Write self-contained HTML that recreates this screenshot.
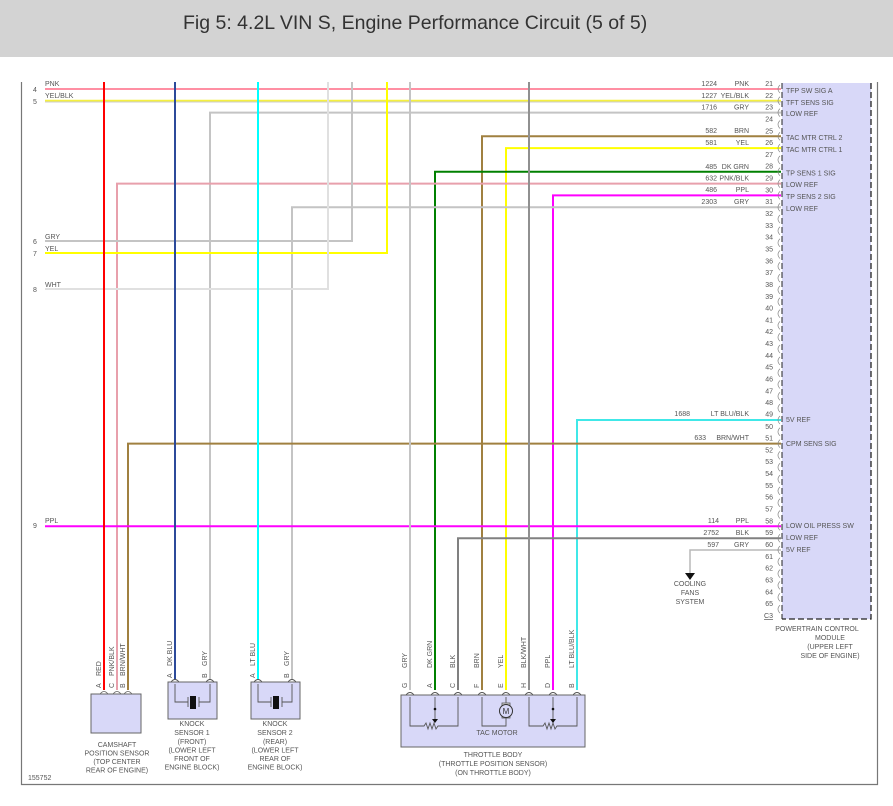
<!DOCTYPE html>
<html><head><meta charset="utf-8"><style>
html,body{margin:0;padding:0;background:#fff;}
svg{display:block;font-family:"Liberation Sans",Arial,sans-serif;}
text{fill:#555;font-size:7px;}
</style></head><body>
<svg width="893" height="806" viewBox="0 0 893 806" xmlns="http://www.w3.org/2000/svg">
<rect x="0" y="0" width="893" height="57" fill="#d3d3d3"/>
<text x="183" y="29" style="font-size:19.5px;fill:#333">Fig 5: 4.2L VIN S, Engine Performance Circuit (5 of 5)</text>
<path d="M21.5 82 V784.5 H877.5 V82" fill="none" stroke="#777" stroke-width="1.2"/>
<rect x="782" y="83" width="89" height="536" fill="#d8d8f8"/>
<path d="M871 83 V619 H782" fill="none" stroke="#222" stroke-width="1.3" stroke-dasharray="6,3"/>
<path d="M782 83 V619" fill="none" stroke="#222" stroke-width="1" stroke-dasharray="6,3"/>

<g fill="none" stroke-width="2">
<path d="M45 89 H781" stroke="#ff8fa3"/>
<path d="M45 100.8 H781" stroke="#f5f040"/>
<path d="M45 102 H781" stroke="#ccc" stroke-width="1"/>
<path d="M210 680 V112.6 H781" stroke="#c4c4c4"/>
<path d="M482 690 V136.3 H781" stroke="#a08040"/>
<path d="M506 690 V148.1 H781" stroke="#ffff00"/>
<path d="M435 690 V171.7 H781" stroke="#008000"/>
<path d="M117 690 V183.6 H781" stroke="#e8a0ac"/>
<path d="M553 690 V195.4 H781" stroke="#ff00ff"/>
<path d="M292 680 V207.2 H781" stroke="#c4c4c4"/>
<path d="M45 241 H352 V82" stroke="#c4c4c4"/>
<path d="M45 253 H387 V82" stroke="#ffff00"/>
<path d="M45 289 H328 V82" stroke="#e0e0e0"/>
<path d="M577 690 V420 H781" stroke="#40e8e8"/>
<path d="M128 690 V443.6 H781" stroke="#a08040"/>
<path d="M45 526.3 H781" stroke="#ff00ff"/>
<path d="M458 690 V538.2 H781" stroke="#808080"/>
<path d="M781 550 H690 V573" stroke="#b8b8b8" stroke-width="1.5"/>
<path d="M104 82 V690" stroke="#ff0000"/>
<path d="M175 82 V680" stroke="#2c4a9a"/>
<path d="M258 82 V680" stroke="#00ffff"/>
<path d="M410 82 V690" stroke="#c4c4c4"/>
<path d="M529 82 V690" stroke="#909090"/>
</g>
<polygon points="685,573 695,573 690,580" fill="#111"/>
<text x="690" y="586" text-anchor="middle">COOLING</text>
<text x="690" y="595" text-anchor="middle">FANS</text>
<text x="690" y="604" text-anchor="middle">SYSTEM</text>

<g>
<text x="33" y="92">4</text><text x="45" y="86">PNK</text>
<text x="33" y="104">5</text><text x="45" y="98">YEL/BLK</text>
<text x="33" y="244">6</text><text x="45" y="239">GRY</text>
<text x="33" y="256">7</text><text x="45" y="251">YEL</text>
<text x="33" y="292">8</text><text x="45" y="287">WHT</text>
<text x="33" y="528">9</text><text x="45" y="523">PPL</text>
</g>

<g text-anchor="end">
<text x="717" y="86">1224</text><text x="749" y="86">PNK</text>
<text x="717" y="98">1227</text><text x="749" y="98">YEL/BLK</text>
<text x="717" y="109.5">1716</text><text x="749" y="109.5">GRY</text>
<text x="717" y="133">582</text><text x="749" y="133">BRN</text>
<text x="717" y="145">581</text><text x="749" y="145">YEL</text>
<text x="717" y="169">485</text><text x="749" y="169">DK GRN</text>
<text x="717" y="180.5">632</text><text x="749" y="180.5">PNK/BLK</text>
<text x="717" y="192">486</text><text x="749" y="192">PPL</text>
<text x="717" y="204">2303</text><text x="749" y="204">GRY</text>
<text x="690" y="416">1688</text><text x="749" y="416">LT BLU/BLK</text>
<text x="706" y="440">633</text><text x="749" y="440">BRN/WHT</text>
<text x="719" y="523">114</text><text x="749" y="523">PPL</text>
<text x="719" y="535">2752</text><text x="749" y="535">BLK</text>
<text x="719" y="547">597</text><text x="749" y="547">GRY</text>
</g>

<g text-anchor="end">
<text x="773" y="86">21</text><text x="773" y="97.8">22</text><text x="773" y="109.6">23</text><text x="773" y="121.5">24</text><text x="773" y="133.3">25</text><text x="773" y="145.1">26</text><text x="773" y="156.9">27</text><text x="773" y="168.7">28</text><text x="773" y="180.6">29</text><text x="773" y="192.4">30</text><text x="773" y="204.2">31</text><text x="773" y="216">32</text><text x="773" y="227.8">33</text><text x="773" y="239.7">34</text><text x="773" y="251.5">35</text><text x="773" y="263.3">36</text><text x="773" y="275.1">37</text><text x="773" y="286.9">38</text><text x="773" y="298.8">39</text><text x="773" y="310.6">40</text><text x="773" y="322.4">41</text><text x="773" y="334.2">42</text><text x="773" y="346">43</text><text x="773" y="357.9">44</text><text x="773" y="369.7">45</text><text x="773" y="381.5">46</text><text x="773" y="393.3">47</text><text x="773" y="405.1">48</text><text x="773" y="416.5">49</text><text x="773" y="428.8">50</text><text x="773" y="440.6">51</text><text x="773" y="452.4">52</text><text x="773" y="464.2">53</text><text x="773" y="476.1">54</text><text x="773" y="487.9">55</text><text x="773" y="499.7">56</text><text x="773" y="511.5">57</text><text x="773" y="523.3">58</text><text x="773" y="535.2">59</text><text x="773" y="547">60</text><text x="773" y="558.8">61</text><text x="773" y="570.6">62</text><text x="773" y="582.4">63</text><text x="773" y="594.3">64</text><text x="773" y="606.1">65</text><text x="773" y="618" style="text-decoration:underline">C3</text>
</g>
<g fill="none" stroke="#888" stroke-width="0.7">
<path d="M780 85 q-4 4 0 8 M780 96.8 q-4 4 0 8 M780 108.6 q-4 4 0 8 M780 120.5 q-4 4 0 8 M780 132.3 q-4 4 0 8 M780 144.1 q-4 4 0 8 M780 155.9 q-4 4 0 8 M780 167.7 q-4 4 0 8 M780 179.6 q-4 4 0 8 M780 191.4 q-4 4 0 8 M780 203.2 q-4 4 0 8 M780 215 q-4 4 0 8 M780 226.8 q-4 4 0 8 M780 238.7 q-4 4 0 8 M780 250.5 q-4 4 0 8 M780 262.3 q-4 4 0 8 M780 274.1 q-4 4 0 8 M780 285.9 q-4 4 0 8 M780 297.8 q-4 4 0 8 M780 309.6 q-4 4 0 8 M780 321.4 q-4 4 0 8 M780 333.2 q-4 4 0 8 M780 345 q-4 4 0 8 M780 356.9 q-4 4 0 8 M780 368.7 q-4 4 0 8 M780 380.5 q-4 4 0 8 M780 392.3 q-4 4 0 8 M780 404.1 q-4 4 0 8 M780 416 q-4 4 0 8 M780 427.8 q-4 4 0 8 M780 439.6 q-4 4 0 8 M780 451.4 q-4 4 0 8 M780 463.2 q-4 4 0 8 M780 475.1 q-4 4 0 8 M780 486.9 q-4 4 0 8 M780 498.7 q-4 4 0 8 M780 510.5 q-4 4 0 8 M780 522.3 q-4 4 0 8 M780 534.2 q-4 4 0 8 M780 546 q-4 4 0 8 M780 557.8 q-4 4 0 8 M780 569.6 q-4 4 0 8 M780 581.4 q-4 4 0 8 M780 593.3 q-4 4 0 8 M780 605.1 q-4 4 0 8"/>
</g>
<g>
<text x="786" y="93">TFP SW SIG A</text>
<text x="786" y="104.8">TFT SENS SIG</text>
<text x="786" y="116">LOW REF</text>
<text x="786" y="140">TAC MTR CTRL 2</text>
<text x="786" y="152">TAC MTR CTRL 1</text>
<text x="786" y="175.5">TP SENS 1 SIG</text>
<text x="786" y="187">LOW REF</text>
<text x="786" y="199">TP SENS 2 SIG</text>
<text x="786" y="211">LOW REF</text>
<text x="786" y="422">5V REF</text>
<text x="786" y="446">CPM SENS SIG</text>
<text x="786" y="528">LOW OIL PRESS SW</text>
<text x="786" y="540">LOW REF</text>
<text x="786" y="552">5V REF</text>
<text x="817" y="631" text-anchor="middle">POWERTRAIN CONTROL</text>
<text x="830" y="640" text-anchor="middle">MODULE</text>
<text x="830" y="649" text-anchor="middle">(UPPER LEFT</text>
<text x="830" y="658" text-anchor="middle">SIDE OF ENGINE)</text>
</g>

<rect x="91" y="694" width="50" height="39" fill="#d8d8f8" stroke="#666" stroke-width="1"/>
<g fill="none" stroke="#666" stroke-width="0.8">
<path d="M100 694 q4 -5 8 0 M113 694 q4 -5 8 0 M124 694 q4 -5 8 0"/>
</g>
<g transform="rotate(-90)">
<text x="-688" y="101">A</text><text x="-676" y="101">RED</text>
<text x="-688" y="114">C</text><text x="-676" y="114">PNK/BLK</text>
<text x="-688" y="125">B</text><text x="-676" y="125">BRN/WHT</text>
<text x="-678" y="172">A</text><text x="-666" y="172">DK BLU</text>
<text x="-678" y="207">B</text><text x="-666" y="207">GRY</text>
<text x="-678" y="255">A</text><text x="-666" y="255">LT BLU</text>
<text x="-678" y="289">B</text><text x="-666" y="289">GRY</text>
<text x="-688" y="407">G</text><text x="-668" y="407">GRY</text>
<text x="-688" y="432">A</text><text x="-668" y="432">DK GRN</text>
<text x="-688" y="455">C</text><text x="-668" y="455">BLK</text>
<text x="-688" y="479">F</text><text x="-668" y="479">BRN</text>
<text x="-688" y="503">E</text><text x="-668" y="503">YEL</text>
<text x="-688" y="526">H</text><text x="-668" y="526">BLK/WHT</text>
<text x="-688" y="550">D</text><text x="-668" y="550">PPL</text>
<text x="-688" y="574">B</text><text x="-668" y="574">LT BLU/BLK</text>
</g>
<g text-anchor="middle">
<text x="117" y="747">CAMSHAFT</text>
<text x="117" y="755.5">POSITION SENSOR</text>
<text x="117" y="764">(TOP CENTER</text>
<text x="117" y="772.5">REAR OF ENGINE)</text>
</g>

<g>
<rect x="168" y="682" width="49" height="37" fill="#d8d8f8" stroke="#666"/>
<rect x="251" y="682" width="49" height="37" fill="#d8d8f8" stroke="#666"/>
<g fill="none" stroke="#555" stroke-width="0.9">
<path d="M175 684 V702 H188 M210 684 V702 H199 M188 697 V707 M199 697 V707"/>
<path d="M258 684 V702 H271 M292 684 V702 H282 M271 697 V707 M282 697 V707"/>
<path d="M171 682 q4 -5 8 0 M206 682 q4 -5 8 0 M254 682 q4 -5 8 0 M288 682 q4 -5 8 0"/>
</g>
<rect x="190" y="696" width="6" height="13" fill="#111"/>
<rect x="273" y="696" width="6" height="13" fill="#111"/>
</g>
<g text-anchor="middle">
<text x="192" y="726">KNOCK</text><text x="192" y="735">SENSOR 1</text><text x="192" y="744">(FRONT)</text><text x="192" y="752.5">(LOWER LEFT</text><text x="192" y="761">FRONT OF</text><text x="192" y="769.5">ENGINE BLOCK)</text>
<text x="275" y="726">KNOCK</text><text x="275" y="735">SENSOR 2</text><text x="275" y="744">(REAR)</text><text x="275" y="752.5">(LOWER LEFT</text><text x="275" y="761">REAR OF</text><text x="275" y="769.5">ENGINE BLOCK)</text>
</g>

<rect x="401" y="695" width="184" height="52" fill="#d8d8f8" stroke="#666"/>
<g fill="none" stroke="#555" stroke-width="0.9">
<path d="M406 695 q4 -5 8 0 M431 695 q4 -5 8 0 M454 695 q4 -5 8 0 M478 695 q4 -5 8 0 M502 695 q4 -5 8 0 M525 695 q4 -5 8 0 M549 695 q4 -5 8 0 M573 695 q4 -5 8 0"/>
<path d="M410 697 V726 H424 l2 -3 2 6 2 -6 2 6 2 -6 2 6 2 -3 H458 V697"/>
<path d="M435 697 V720"/>
<path d="M529 697 V726 H543 l2 -3 2 6 2 -6 2 6 2 -6 2 6 2 -3 H577 V697"/>
<path d="M553 697 V720"/>
<path d="M482 697 V726 H506 V718 M506 697 V704"/>
</g>
<circle cx="435" cy="709" r="1.3" fill="#111"/><polygon points="432,719 438,719 435,723" fill="#111"/>
<circle cx="553" cy="709" r="1.3" fill="#111"/><polygon points="550,719 556,719 553,723" fill="#111"/>
<rect x="502" y="703" width="8" height="15" fill="#ddd" stroke="#555" stroke-width="0.8"/>
<circle cx="506" cy="711" r="6.5" fill="#d8d8f8" stroke="#333" stroke-width="1"/>
<text x="506" y="714" text-anchor="middle" style="font-size:8px;fill:#333">M</text>
<text x="497" y="735" text-anchor="middle">TAC MOTOR</text>
<g text-anchor="middle">
<text x="493" y="757">THROTTLE BODY</text>
<text x="493" y="766">(THROTTLE POSITION SENSOR)</text>
<text x="493" y="775">(ON THROTTLE BODY)</text>
</g>
<text x="28" y="780">155752</text>
</svg>
</body></html>
